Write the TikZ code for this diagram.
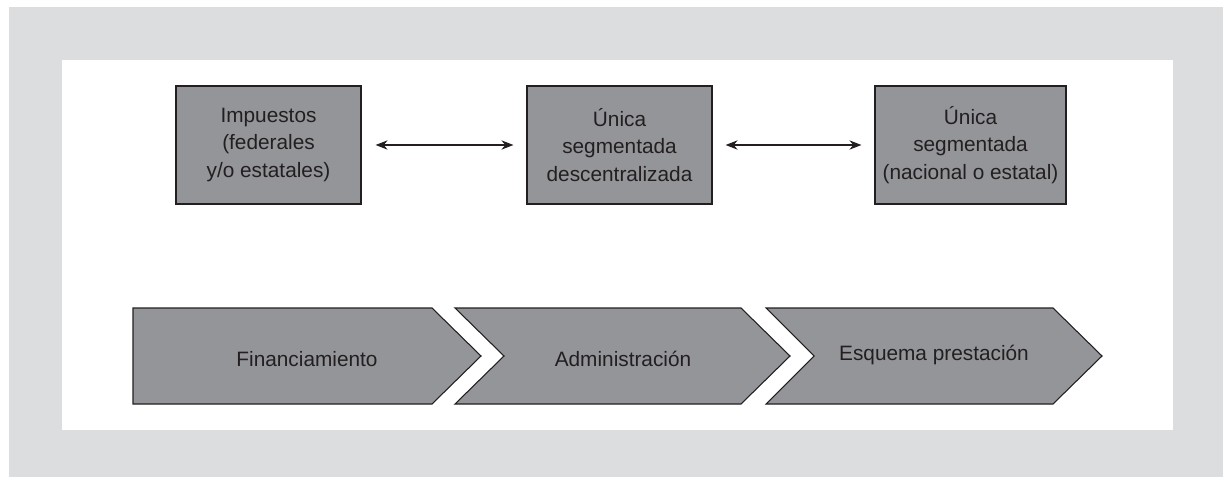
\documentclass[tikz,border=0pt]{standalone}
\usepackage{fontspec}
\setmainfont{Liberation Sans}
\usetikzlibrary{arrows.meta}
\definecolor{bggray}{HTML}{DCDDDF}
\definecolor{boxgray}{HTML}{939598}
\definecolor{ink}{HTML}{231F20}
\tikzset{
  box/.style={draw=ink, line width=0.9pt, fill=boxgray, text=ink, align=center,
    minimum height=88.5pt, inner sep=0pt, font=\fontsize{15.6}{20.6}\selectfont},
  chev/.style={draw=ink, line width=0.8pt, fill=boxgray},
  lbl/.style={text=ink, font=\fontsize{15.6}{19}\selectfont, inner sep=0pt},
  link/.style={draw=ink, line width=0.8pt, {Stealth[length=9pt,width=7pt]}-{Stealth[length=9pt,width=7pt]}}
}
\begin{document}
\begin{tikzpicture}[x=0.75pt,y=-0.75pt]
\useasboundingbox (0,0) rectangle (1223,477);
\fill[white] (0,0) rectangle (1223,477);
\fill[bggray] (9,7) rectangle (1223,477);
\fill[white] (62,60) rectangle (1173,430);
% top boxes
\node[box, minimum width=138.75pt] (b1) at (268.5,145) {Impuestos\\(federales\\y/o estatales)};
\node[box, minimum width=138.75pt] (b2) at (619.5,145) {Única\\segmentada\\descentralizada};
\node[box, minimum width=143.25pt] (b3) at (970.5,145) {Única\\segmentada\\(nacional o estatal)};
\draw[link] ([xshift=-9.75pt]b2.west) -- ([xshift=10.5pt]b1.east);
\draw[link] ([xshift=-9.75pt]b3.west) -- ([xshift=9.75pt]b2.east);
% chevrons
\draw[chev] (133,308) -- (432,308) -- (481,356) -- (432,404) -- (133,404) -- cycle;
\draw[chev] (455,308) -- (741,308) -- (790,356) -- (741,404) -- (455,404) -- (504,356) -- cycle;
\draw[chev] (766,308) -- (1053,308) -- (1102,356) -- (1053,404) -- (766,404) -- (814,356) -- cycle;
\node[lbl] (c1) at (307,359) {Financiamiento};
\node[lbl] (c2) at (623,359) {Administración};
\node[lbl] (c3) at (934,355) {Esquema prestación};
\end{tikzpicture}
\end{document}
